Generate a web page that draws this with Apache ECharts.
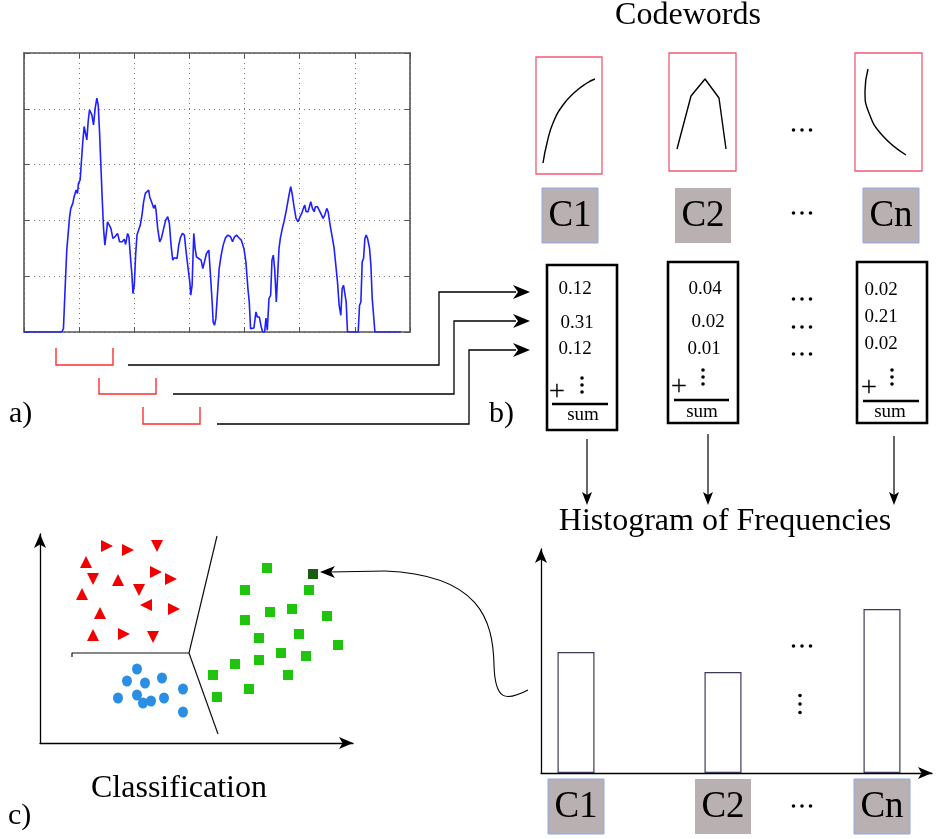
<!DOCTYPE html>
<html><head><meta charset="utf-8">
<script src="https://cdn.jsdelivr.net/npm/echarts@6/dist/echarts.min.js"></script>
<style>html,body{margin:0;padding:0;background:#fff}#c{width:940px;height:839px}</style>
</head><body><div id="c"></div>
<script>
// ---------- data ----------
// a) signal (time, amplitude) in arbitrary units
const signal = [[0,0],[113,0],[118,10],[123,130],[128,245],[133,250],[136,340],[140,370],[146,385],[150,405],[156,425],[160,415],[163,445],[168,455],[171,500],[176,570],[180,615],[185,590],[188,575],[192,630],[196,665],[200,670],[203,650],[208,620],[213,670],[218,700],[222,680],[226,600],[230,500],[234,400],[238,310],[242,260],[245,255],[248,310],[250,330],[254,325],[260,310],[266,280],[272,285],[280,295],[286,270],[290,275],[294,270],[300,278],[304,262],[310,295],[314,285],[318,230],[323,170],[326,115],[330,140],[334,230],[338,290],[343,305],[348,320],[353,350],[358,390],[363,415],[368,420],[373,425],[376,405],[380,400],[385,380],[388,370],[392,380],[395,365],[400,310],[406,270],[411,280],[418,310],[424,335],[430,345],[435,325],[440,260],[445,215],[449,222],[453,225],[458,220],[463,260],[468,282],[474,295],[480,290],[484,250],[488,215],[492,220],[496,150],[499,110],[503,140],[508,295],[512,250],[516,225],[523,220],[530,215],[535,190],[540,210],[546,235],[553,245],[558,170],[563,90],[566,30],[570,20],[574,40],[578,100],[584,190],[590,230],[596,260],[603,282],[610,290],[618,285],[624,270],[630,285],[636,290],[643,282],[650,275],[658,250],[664,210],[670,130],[674,90],[678,10],[682,15],[688,12],[694,60],[698,45],[704,45],[710,15],[714,0],[720,0],[724,42],[728,5],[733,100],[738,110],[742,215],[746,230],[750,190],[755,90],[758,150],[763,250],[767,280],[773,310],[778,330],[785,365],[788,370],[793,410],[798,435],[803,410],[808,375],[814,340],[820,330],[826,345],[831,355],[836,370],[840,380],[844,360],[850,360],[854,375],[858,390],[863,370],[868,360],[872,375],[878,375],[883,370],[888,355],[895,340],[900,350],[906,370],[910,360],[916,320],[923,280],[928,250],[933,200],[938,150],[943,80],[948,50],[952,130],[956,140],[960,140],[964,90],[968,0],[988,0],[993,5],[1000,0],[1004,80],[1008,90],[1012,210],[1016,220],[1020,280],[1024,290],[1028,280],[1034,250],[1038,200],[1042,100],[1046,50],[1050,0],[1128,0]];

// b) codeword shapes
const codeword1 = [[7,11],[11,31],[17,51],[27,69],[39,82],[51,91],[59,95]];
const codeword2 = [[8,22],[22,75],[36,92],[50,73],[57,22]];
const codewordN = [[13,102],[10,80],[14,58],[27,36],[51,16]];
const codeLabels = ['C1','C2','Cn'];
const values1 = ['0.12','0.31','0.12'];
const values2 = ['0.04','0.02','0.01'];
const valuesN = ['0.02','0.21','0.02'];

// histogram: [position, frequency]
const histBars = [[35,121],[182,101],[341,164]];

// c) classification (x, y, triangle direction)
const redPoints = [[67,197,'r'],[88,193,'r'],[117,197,'d'],[46,181,'u'],[53,164,'d'],[78,163,'u'],[116,171,'r'],[131,164,'r'],[42,149,'u'],[99,153,'d'],[106,138,'l'],[134,134,'r'],[60,130,'u'],[53,108,'u'],[84,109,'r'],[113,106,'d']];
const bluePoints = [[97,74],[87,62],[105,60],[122,65],[143,54],[78,45],[97,48],[103,40],[111,42],[124,45],[143,31]];
const greenPoints = [[227,175],[205,153],[269,153],[230,131],[252,134],[205,123],[287,127],[219,105],[259,109],[298,98],[241,90],[266,87],[219,83],[195,79],[173,68],[248,68],[209,54],[177,46]];
const newPoint = [[273,169]];
const boundaryA = [[32,86],[32,90],[149,90],[177,207]];
const boundaryB = [[149,90],[178,9]];

// ---------- chart ----------
const SERIF = "'Liberation Serif','Times New Roman',serif";
const chart = echarts.init(document.getElementById('c'));

const hidden = (gi, min, max) => ({gridIndex:gi,type:'value',min:min,max:max,show:false});
const rotMap = {u:0, d:180, r:-90, l:90};

function arrowHead(tx, ty, dx, dy, L, W, N) {
  const nx = -dy, ny = dx;
  return {type:'polygon', silent:true, shape:{points:[
    [tx,ty],
    [tx - L*dx + W*nx, ty - L*dy + W*ny],
    [tx - (L-N)*dx, ty - (L-N)*dy],
    [tx - L*dx - W*nx, ty - L*dy - W*ny]
  ]}, style:{fill:'#000'}};
}
function pline(points, color, w) {
  return {type:'polyline', silent:true, shape:{points:points}, style:{stroke:color||'#000', lineWidth:w||1.3, fill:null}};
}
function txt(x, y, text, size, align, extra) {
  return {type:'text', x:x, y:y, silent:true, style:Object.assign({text:text, font:size+'px '+SERIF, fill:'#000', textAlign:align||'center', textVerticalAlign:'middle'}, extra||{})};
}
function dots(cx, cy, vertical, gap) {
  gap = gap || 8.5;
  const out = [];
  for (let i=-1;i<=1;i++) {
    out.push({type:'circle', silent:true, shape:{cx: vertical?cx:cx+i*gap, cy: vertical?cy+i*gap:cy, r:1.8}, style:{fill:'#000'}});
  }
  return out;
}
function grayLabel(x, y, w, h, text, border) {
  return [
    {type:'rect', silent:true, shape:{x:x,y:y,width:w,height:h}, style:{fill:'#b9b1b1', stroke: border?'#8ea9ec':null, lineWidth:1}},
    txt(x+w/2, y+h/2+1, text, 37)
  ];
}

const g = [];
// titles / labels
g.push(txt(688, 16, 'Codewords', 32));
g.push(txt(725, 522, 'Histogram of Frequencies', 32));
g.push(txt(179, 789, 'Classification', 32));
g.push(txt(9, 414, 'a)', 30, 'left'));
g.push(txt(489, 414, 'b)', 30, 'left'));
g.push(txt(8, 816, 'c)', 30, 'left'));

// red window brackets
g.push(pline([[56,348],[56,365],[113,365],[113,348]], '#ff2e2e', 1.4));
g.push(pline([[99,378],[99,394],[156,394],[156,378]], '#ff2e2e', 1.4));
g.push(pline([[143,407],[143,424],[200,424],[200,407]], '#ff2e2e', 1.4));

// connectors to number boxes
g.push(pline([[128,365],[439,365],[439,292],[516,292]]));
g.push(arrowHead(530,292,1,0,17,7,5));
g.push(pline([[173,394],[454,394],[454,321],[516,321]]));
g.push(arrowHead(530,321,1,0,17,7,5));
g.push(pline([[217,424],[469,424],[469,350],[516,350]]));
g.push(arrowHead(530,350,1,0,17,7,5));

// codeword labels
g.push(...grayLabel(542,188,56,55,codeLabels[0],true));
g.push(...grayLabel(675,188,56,55,codeLabels[1],false));
g.push(...grayLabel(863,188,56,55,codeLabels[2],true));
g.push(...dots(802,130,false));
g.push(...dots(802,213,false));

// number boxes
const boxes = [
  {x:547,y:265,w:70,h:165, vals:values1, vx:[575,577,575], vy:[289,323,349], dx:582, dy:385, px:557, py:392, ly:404, lx:[552,608], sx:583, sy:415},
  {x:668,y:262,w:70,h:161, vals:values2, vx:[705,708,704], vy:[289,322,349], dx:703, dy:377, px:679, py:387, ly:400, lx:[674,729], sx:702, sy:412},
  {x:857,y:262,w:70,h:161, vals:valuesN, vx:[881,881,881], vy:[290,317,344], dx:892, dy:377, px:869, py:388, ly:401, lx:[863,919], sx:890, sy:412}
];
boxes.forEach(b => {
  g.push({type:'rect', silent:true, shape:{x:b.x,y:b.y,width:b.w,height:b.h}, style:{fill:null, stroke:'#000', lineWidth:2.6}});
  b.vals.forEach((v,i)=> g.push(txt(b.vx[i], b.vy[i], v, 19)));
  g.push(...dots(b.dx, b.dy, true, 7));
  g.push(txt(b.px, b.py, '+', 29));
  g.push(pline([[b.lx[0],b.ly],[b.lx[1],b.ly]], '#000', 2.6));
  g.push(txt(b.sx, b.sy, 'sum', 19));
});
g.push(...dots(802,299,false));
g.push(...dots(802,327,false));
g.push(...dots(802,354,false));

// down arrows
[[587,439],[708,434],[894,436]].forEach(p => {
  g.push(pline([[p[0],p[1]],[p[0],496]], '#000', 1.2));
  g.push(arrowHead(p[0],505,0,1,13,5,3));
});

// histogram annotations
g.push(...grayLabel(548,779,56,55,codeLabels[0],true));
g.push(...grayLabel(695,779,56,55,codeLabels[1],false));
g.push(...grayLabel(854,779,56,55,codeLabels[2],true));
g.push(...dots(802,806,false));
g.push(...dots(802,646,false));
g.push(...dots(800,704,true));

// curved arrow histogram -> new point
g.push({type:'bezierCurve', silent:true, shape:{x1:528,y1:690,cpx1:505,cpy1:702,cpx2:495,cpy2:700,x2:494,y2:665}, style:{stroke:'#000',lineWidth:1.1,fill:null}});
g.push({type:'bezierCurve', silent:true, shape:{x1:494,y1:665,cpx1:493,cpy1:620,cpx2:480,cpy2:575,x2:385,y2:571}, style:{stroke:'#000',lineWidth:1.1,fill:null}});
g.push(pline([[385,571],[330,572]], '#000', 1.1));
g.push(arrowHead(320,572,-1,0,15,6,4));

const axisArrow = {show:true, symbol:['none','arrow'], symbolSize:[9,14], lineStyle:{color:'#000', width:1.3}};

const option = {
  animation:false,
  backgroundColor:'#fff',
  grid:[
    {left:24, top:53, right:530, bottom:507},
    {left:536, top:57, width:66, height:117, show:true, borderColor:'#ef5b73', borderWidth:1.3},
    {left:669, top:53, width:67, height:118, show:true, borderColor:'#ef5b73', borderWidth:1.3},
    {left:855, top:53, width:67, height:118, show:true, borderColor:'#ef5b73', borderWidth:1.3},
    {left:541, top:549, right:8, bottom:66},
    {left:40, top:534, right:587, bottom:96}
  ],
  xAxis:[
    {gridIndex:0,type:'value',min:0,max:1155,interval:165,
      axisLine:{onZero:false,lineStyle:{color:'#555',width:1.6}},
      axisTick:{inside:true,length:5,lineStyle:{color:'#555'}},
      axisLabel:{show:false},
      splitLine:{show:true,lineStyle:{color:'#777',type:[1,4],width:1}}},
    {gridIndex:0,type:'value',position:'top',min:0,max:1155,interval:165,
      axisLine:{onZero:false,lineStyle:{color:'#555',width:1.6}},
      axisTick:{inside:true,length:5,lineStyle:{color:'#555'}},
      axisLabel:{show:false}, splitLine:{show:false}},
    hidden(1,0,66), hidden(2,0,67), hidden(3,0,67),
    {gridIndex:4,type:'value',min:0,max:391, axisLine:axisArrow, axisTick:{show:false}, axisLabel:{show:false}, splitLine:{show:false}},
    {gridIndex:5,type:'value',min:0,max:313, axisLine:axisArrow, axisTick:{show:false}, axisLabel:{show:false}, splitLine:{show:false}}
  ],
  yAxis:[
    {gridIndex:0,type:'value',min:0,max:835,interval:167,
      axisLine:{show:true,onZero:false,lineStyle:{color:'#555',width:1.6}},
      axisTick:{show:true,inside:true,length:5,lineStyle:{color:'#555'}},
      axisLabel:{show:false},
      splitLine:{show:true,lineStyle:{color:'#777',type:[1,4],width:1}}},
    {gridIndex:0,type:'value',position:'right',min:0,max:835,interval:167,
      axisLine:{show:true,onZero:false,lineStyle:{color:'#555',width:1.6}},
      axisTick:{show:true,inside:true,length:5,lineStyle:{color:'#555'}},
      axisLabel:{show:false}, splitLine:{show:false}},
    hidden(1,0,117), hidden(2,0,118), hidden(3,0,118),
    {gridIndex:4,type:'value',min:0,max:224, axisLine:axisArrow, axisTick:{show:false}, axisLabel:{show:false}, splitLine:{show:false}},
    {gridIndex:5,type:'value',min:0,max:209, axisLine:axisArrow, axisTick:{show:false}, axisLabel:{show:false}, splitLine:{show:false}}
  ],
  series:[
    {type:'line', xAxisIndex:0, yAxisIndex:0, data:signal, showSymbol:false, lineStyle:{color:'#1f1fff', width:1.6}},
    {type:'line', xAxisIndex:2, yAxisIndex:2, data:codeword1, smooth:true, showSymbol:false, lineStyle:{color:'#000', width:1.4}},
    {type:'line', xAxisIndex:3, yAxisIndex:3, data:codeword2, showSymbol:false, lineStyle:{color:'#000', width:1.4}},
    {type:'line', xAxisIndex:4, yAxisIndex:4, data:codewordN, smooth:true, showSymbol:false, lineStyle:{color:'#000', width:1.4}},
    {type:'bar', xAxisIndex:5, yAxisIndex:5, data:histBars, barWidth:37, itemStyle:{color:'#fff', borderColor:'#3b3b58', borderWidth:1.2}},
    {type:'line', xAxisIndex:6, yAxisIndex:6, data:boundaryA, showSymbol:false, lineStyle:{color:'#111', width:1.2}},
    {type:'line', xAxisIndex:6, yAxisIndex:6, data:boundaryB, showSymbol:false, lineStyle:{color:'#111', width:1.2}},
    {type:'scatter', xAxisIndex:6, yAxisIndex:6, symbol:'triangle', symbolSize:12,
      data:redPoints.map(p=>({value:[p[0],p[1]], symbolRotate:rotMap[p[2]]})), itemStyle:{color:'#f20000', opacity:1}},
    {type:'scatter', xAxisIndex:6, yAxisIndex:6, symbol:'circle', symbolSize:[10,11], data:bluePoints, itemStyle:{color:'#2a8ee4', opacity:1}},
    {type:'scatter', xAxisIndex:6, yAxisIndex:6, symbol:'rect', symbolSize:10, data:greenPoints, itemStyle:{color:'#1fc40c', opacity:1}},
    {type:'scatter', xAxisIndex:6, yAxisIndex:6, symbol:'rect', symbolSize:10, data:newPoint, itemStyle:{color:'#1c5c10', opacity:1}}
  ],
  graphic: g
};
chart.setOption(option);
</script>
</body></html>
